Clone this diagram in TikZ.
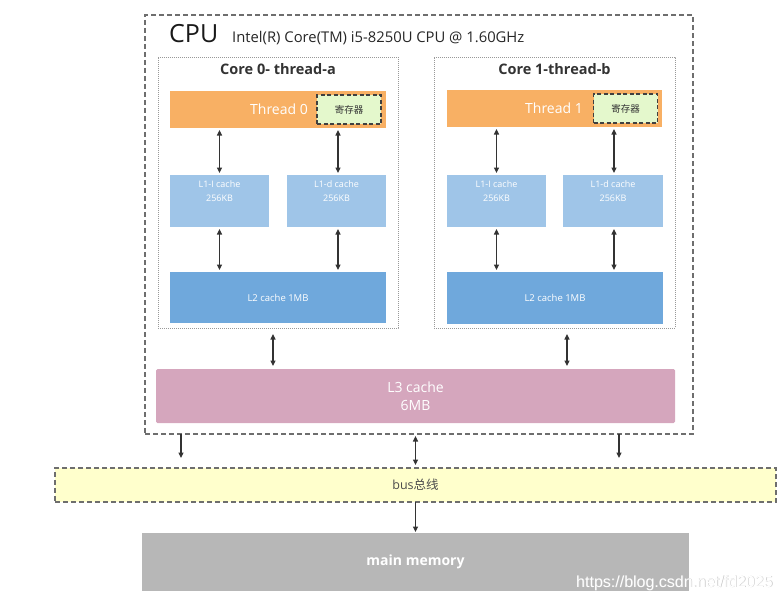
\documentclass[tikz,border=0pt]{standalone}
\usepackage{fontspec}
\setmainfont{Open Sans}
\newfontfamily\cjk{Noto Sans CJK SC}
\newfontfamily\wmfont{Liberation Sans}
\usetikzlibrary{arrows.meta}
\definecolor{thrc}{HTML}{F8B064}
\definecolor{regc}{HTML}{E4F8CC}
\definecolor{lonec}{HTML}{9FC5E8}
\definecolor{ltwoc}{HTML}{6FA8DC}
\definecolor{lthreec}{HTML}{D5A6BD}
\definecolor{busc}{HTML}{FFFFCC}
\definecolor{memc}{HTML}{B7B7B7}
\definecolor{arrc}{HTML}{333333}
\definecolor{dashc}{HTML}{6E6E6E}
\tikzset{
  fs/.style={font=\fontsize{#1}{#1}\selectfont},
  boxbase/.style={inner sep=0pt, outer sep=0pt},
  cpubox/.style={boxbase, draw=dashc, line width=1.4pt, dash pattern=on 5pt off 3pt},
  corebox/.style={boxbase, draw=gray!80, line width=0.9pt, dash pattern=on 0.9pt off 1.1pt},
  thrbox/.style={boxbase, fill=thrc},
  thrtxt/.style={text=white, fs=14, inner sep=0pt},
  regbox/.style={boxbase, fill=regc, draw=black!75, line width=1.3pt, dash pattern=on 4pt off 2.5pt, text=black!80, font=\cjk\fontsize{9.5}{10}\selectfont},
  lonebox/.style={boxbase, fill=lonec},
  ltwobox/.style={boxbase, fill=ltwoc, text=white, fs=9.5},
  lthreebox/.style={boxbase, fill=lthreec, rounded corners=1.5pt, text=white, fs=14, align=center},
  busbox/.style={boxbase, fill=busc, draw=dashc, line width=1.3pt, dash pattern=on 5pt off 3pt, text=black!70},
  membox/.style={boxbase, fill=memc, text=white, font=\bfseries\fontsize{14}{14}\selectfont},
  smalltxt/.style={text=white, fs=9, align=center, inner sep=0pt},
  coretitle/.style={font=\bfseries\fontsize{14.5}{14.5}\selectfont, text=black!80, inner sep=0pt},
  dbl/.style={arrc, line width=1.1pt, {Triangle[length=5.5pt,width=5pt]}-{Triangle[length=5.5pt,width=5pt]}},
  sgl/.style={arrc, line width=1.1pt, -{Triangle[length=5.5pt,width=5pt]}},
  wmstyle/.style={anchor=base east, inner sep=0pt, font=\wmfont\fontsize{16}{16}\selectfont}
}
\begin{document}
\begin{tikzpicture}[x=1pt,y=-1pt]
\useasboundingbox (0,0) rectangle (784,602);

% CPU
\node[cpubox, minimum width=548, minimum height=419] (cpu) at (419,224.5) {};
\node[anchor=base west, inner sep=0pt, fs=25, text=black!90] (cpulbl) at (169,43) {CPU};
\node[anchor=base west, inner sep=0pt, fs=14.8, text=black!85] (cpumodel) at (232,43) {Intel(R) Core(TM) i5-8250U CPU @ 1.60GHz};

% Core 0
\node[corebox, minimum width=240, minimum height=271] (core0) at (278,192.5) {};
\node[coretitle, anchor=north] (core0t) at ([yshift=-6pt]core0.north) {Core 0- thread-a};
\node[thrbox, minimum width=216, minimum height=37] (thr0) at (278,109.5) {};
\node[thrtxt] (thr0t) at (279,109.5) {Thread 0};
\node[regbox, minimum width=64, minimum height=29] (reg0) at (349,109.5) {寄存器};
\node[lonebox, minimum width=99, minimum height=52] (l1i0) at (219.5,201) {};
\node[smalltxt, anchor=north] (l1i0t) at ([yshift=-5pt]l1i0.north) {L1-I cache\\[5pt]256KB};
\node[lonebox, minimum width=99, minimum height=52] (l1d0) at (336.5,201) {};
\node[smalltxt, anchor=north] (l1d0t) at ([yshift=-5pt]l1d0.north) {L1-d cache\\[5pt]256KB};
\node[ltwobox, minimum width=216, minimum height=51] (l20) at (278,297.5) {L2 cache 1MB};

% Core 1
\node[corebox, minimum width=241, minimum height=271] (core1) at (554.5,192.5) {};
\node[coretitle, anchor=north] (core1t) at ([yshift=-6pt]core1.north) {Core 1-thread-b};
\node[thrbox, minimum width=215, minimum height=37] (thr1) at (554.5,108.5) {};
\node[thrtxt] (thr1t) at (554,108.5) {Thread 1};
\node[regbox, minimum width=64, minimum height=29] (reg1) at (625.5,108.5) {寄存器};
\node[lonebox, minimum width=99, minimum height=52] (l1i1) at (496.5,201) {};
\node[smalltxt, anchor=north] (l1i1t) at ([yshift=-5pt]l1i1.north) {L1-I cache\\[5pt]256KB};
\node[lonebox, minimum width=100, minimum height=52] (l1d1) at (613,201) {};
\node[smalltxt, anchor=north] (l1d1t) at ([yshift=-5pt]l1d1.north) {L1-d cache\\[5pt]256KB};
\node[ltwobox, minimum width=216, minimum height=52] (l21) at (555,298) {L2 cache 1MB};

% L3
\node[lthreebox, minimum width=519, minimum height=54] (l3) at (415.5,396) {L3 cache\\[4pt]6MB};

% bus and memory
\node[busbox, minimum width=721, minimum height=34, font=\fontsize{12.5}{12.5}\selectfont] (bus) at (415.5,485) {bus{\cjk 总线}};
\node[membox, minimum width=547, minimum height=58] (mem) at (415.5,562) {main memory};

% arrows core 0
\draw[dbl, shorten <=2pt, shorten >=2pt] (thr0.south -| l1i0.north) -- (l1i0.north);
\draw[dbl, shorten <=2pt, shorten >=2pt] ([xshift=1.5pt]thr0.south -| l1d0.north) -- ([xshift=1.5pt]l1d0.north);
\draw[dbl, shorten <=2pt, shorten >=2pt] (l1i0.south) -- (l1i0.south |- l20.north);
\draw[dbl, shorten <=2pt, shorten >=2pt] ([xshift=1.5pt]l1d0.south) -- ([xshift=1.5pt]l1d0.south |- l20.north);
% arrows core 1
\draw[dbl, shorten <=2pt, shorten >=2pt] (thr1.south -| l1i1.north) -- (l1i1.north);
\draw[dbl, shorten <=2pt, shorten >=2pt] ([xshift=1pt]thr1.south -| l1d1.north) -- ([xshift=1pt]l1d1.north);
\draw[dbl, shorten <=2pt, shorten >=2pt] (l1i1.south) -- (l1i1.south |- l21.north);
\draw[dbl, shorten <=2pt, shorten >=2pt] ([xshift=1pt]l1d1.south) -- ([xshift=1pt]l1d1.south |- l21.north);
% cores to L3
\draw[dbl, shorten <=6pt, shorten >=3pt] ([xshift=-5pt]core0.south) -- ([xshift=-5pt]core0.south |- l3.north);
\draw[dbl, shorten <=6pt, shorten >=3pt] ([xshift=12.5pt]core1.south) -- ([xshift=12.5pt]core1.south |- l3.north);
% CPU to bus
\draw[sgl, shorten >=10pt] (cpu.south -| 181,0) -- (bus.north -| 181,0);
\draw[sgl, shorten >=10pt] (cpu.south -| 619,0) -- (bus.north -| 619,0);
\draw[dbl, shorten <=2pt, shorten >=3pt] (cpu.south -| bus.north) -- (bus.north);
% bus to memory
\draw[sgl, shorten >=1pt] (bus.south) -- (mem.north);

% watermark
\node[wmstyle, text=gray!45] (wm0) at (773.6,587.6) {https://blog.csdn.net/fd2025};
\node[wmstyle, text=white] (wm) at (773,587) {https://blog.csdn.net/fd2025};
\end{tikzpicture}
\end{document}
